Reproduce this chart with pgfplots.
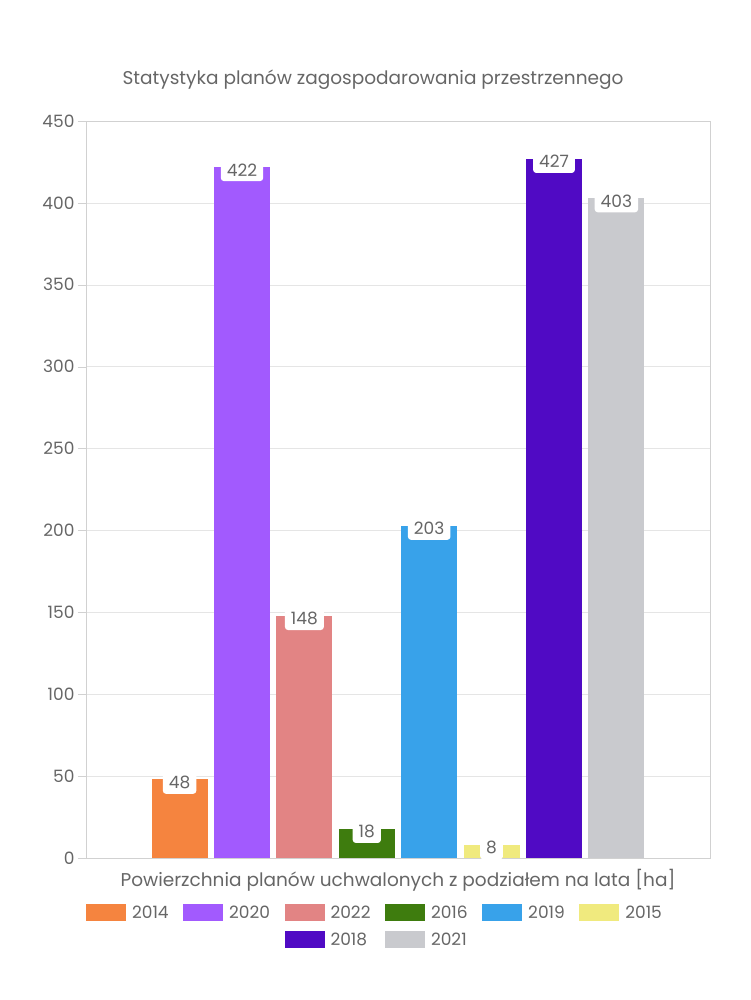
\documentclass[border=0pt]{standalone}
\usepackage{fontspec}
\setmainfont{Poppins}
\usepackage{pgfplots}
\pgfplotsset{compat=1.18}

\definecolor{c2014}{HTML}{F5843F}
\definecolor{c2020}{HTML}{A25AFE}
\definecolor{c2022}{HTML}{E28484}
\definecolor{c2016}{HTML}{3E7C0E}
\definecolor{c2019}{HTML}{38A2EA}
\definecolor{c2015}{HTML}{F0EA7E}
\definecolor{c2018}{HTML}{500AC4}
\definecolor{c2021}{HTML}{C9CACE}
\definecolor{txt}{HTML}{666666}

\pgfplotsset{
  mybar/.style={ybar, bar width=0.9, bar shift=0pt, draw=none, fill=#1,
    legend image code/.code={\fill[#1] (0pt,-8.5pt) rectangle (40pt,8.5pt);}},
}

\begin{document}
\begin{tikzpicture}[x=1pt,y=1pt]
\begin{axis}[
    at={(0,0)}, anchor=south west,
    scale only axis, width=624pt, height=737pt,
    xmin=-1.5, xmax=8.5, ymin=0, ymax=450,
    xtick=\empty,
    ytick={0,50,...,450},
    ytick pos=left,
    ymajorgrids,
    grid style={draw=black!10},
    axis line style={draw=black!18},
    tick align=outside, major tick length=8pt,
    ytick style={draw=black!18},
    /pgf/number format/assume math mode=true,
    tick label style={font=\fontsize{17}{20}\selectfont, text=txt},
    nodes near coords,
    every node near coord/.append style={anchor=center, fill=white,
      rounded corners=3pt, inner xsep=6pt, inner ysep=5pt, yshift=-3pt,
      font=\fontsize{17}{20}\selectfont, text=txt},
    legend columns=6,
    legend style={at={(axis description cs:0.4631,-0.0923)}, anchor=center,
      draw=none, fill=none, font=\fontsize{17}{20}\selectfont, text=txt,
      /tikz/every even column/.append style={column sep=12.5pt},
      /tikz/every odd column/.append style={column sep=4pt},
      row sep=9pt},
    legend cell align=left,
]
\addplot[mybar=c2014] coordinates {(0,48)};  \addlegendentry{2014}
\addplot[mybar=c2020] coordinates {(1,422)}; \addlegendentry{2020}
\addplot[mybar=c2022] coordinates {(2,148)}; \addlegendentry{2022}
\addplot[mybar=c2016] coordinates {(3,18)};  \addlegendentry{2016}
\addplot[mybar=c2019] coordinates {(4,203)}; \addlegendentry{2019}
\addplot[mybar=c2015] coordinates {(5,8)};   \addlegendentry{2015}
\addlegendimage{empty legend}\addlegendentry{}
\addlegendimage{empty legend}\addlegendentry{}
\addplot[mybar=c2018] coordinates {(6,427)}; \addlegendentry{2018}
\addplot[mybar=c2021] coordinates {(7,403)}; \addlegendentry{2021}
\end{axis}
% titles
\node[font=\fontsize{18.5}{22}\selectfont, text=txt] at (287,778) {Statystyka planów zagospodarowania przestrzennego};
\node[font=\fontsize{18.5}{22}\selectfont, text=txt] at (312,-22) {Powierzchnia planów uchwalonych z podziałem na lata [ha]};
\path (-86,-142) rectangle (664,858);
\end{tikzpicture}
\end{document}
